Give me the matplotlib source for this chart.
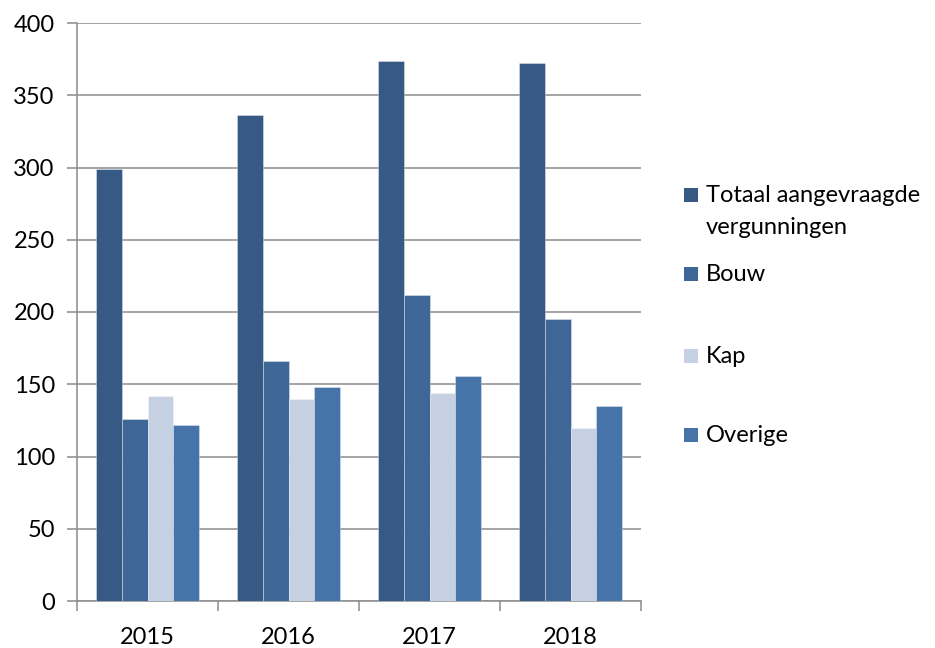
import matplotlib
matplotlib.use("Agg")
import matplotlib.pyplot as plt
from matplotlib.patches import Rectangle
import numpy as np

years = ["2015", "2016", "2017", "2018"]
series_names = ["Totaal aangevraagde\nvergunningen", "Bouw", "Kap", "Overige"]
totaal = [299, 336, 374, 372]
bouw = [126, 166, 212, 195]
kap = [142, 140, 144, 120]
overige = [122, 148, 156, 135]
colors = ["#375A85", "#3E6798", "#C6D0E3", "#4674A8"]

plt.rcParams['font.family'] = ['Lato', 'DejaVu Sans']

W, H = 935, 648
fig = plt.figure(figsize=(W / 100, H / 100), dpi=100)
ax = fig.add_axes([77 / W, 1 - 601 / H, (641 - 77) / W, (601 - 23) / H])

x = np.arange(len(years))
w = 0.181
for i, (vals, c) in enumerate(zip([totaal, bouw, kap, overige], colors)):
    ax.bar(x + (i - 1.5) * w, vals, width=w, color=c,
           edgecolor=(1, 1, 1, 0.35), linewidth=0.7, zorder=3)

ax.set_xlim(-0.5, len(years) - 0.5)
ax.set_ylim(0, 400)
ax.set_yticks(np.arange(0, 401, 50))
ax.set_xticks(x)
ax.set_xticklabels(years)
ax.set_xticks(np.arange(-0.5, len(years), 1.0), minor=True)

gray = "#8C8C8C"
ax.yaxis.grid(True, color=gray, linewidth=1.1, zorder=0)
ax.set_axisbelow(True)
for s in ["top", "right"]:
    ax.spines[s].set_visible(False)
for s in ["left", "bottom"]:
    ax.spines[s].set_color(gray)
    ax.spines[s].set_linewidth(1.1)

ax.tick_params(axis="y", length=7, width=1.1, color=gray, labelsize=17, pad=9, labelcolor="black")
ax.tick_params(axis="x", which="major", length=0, labelsize=17, pad=19, labelcolor="black")
ax.tick_params(axis="x", which="minor", length=7, width=1.1, color=gray)

# legend (manual, figure pixel coords)
sq = 14
square_centers = [195, 274, 356, 435]
baselines = [202, 281, 363, 442]
line_step = 32
for name, c, yc, yb in zip(series_names, colors, square_centers, baselines):
    fig.patches.append(Rectangle((684 / W, 1 - (yc + sq / 2) / H), sq / W, sq / H,
                                 transform=fig.transFigure, facecolor=c, edgecolor="none"))
    for k, line in enumerate(name.split("\n")):
        fig.text(706 / W, 1 - (yb + k * line_step) / H, line, fontsize=17,
                 va="baseline", ha="left", color="black")

fig.savefig("out.png", dpi=100)
